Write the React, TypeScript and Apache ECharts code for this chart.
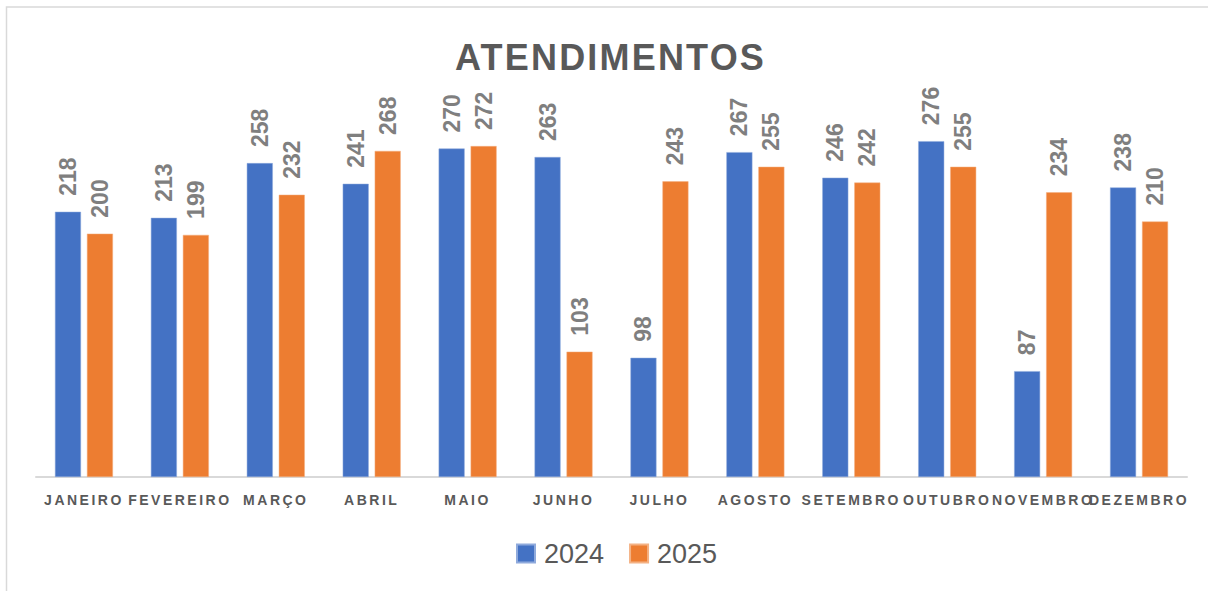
import React, { useEffect, useRef } from "react";
import * as echarts from "echarts";

const categories = [
  "JANEIRO", "FEVEREIRO", "MARÇO", "ABRIL", "MAIO", "JUNHO",
  "JULHO", "AGOSTO", "SETEMBRO", "OUTUBRO", "NOVEMBRO", "DEZEMBRO",
];
const values2024 = [218, 213, 258, 241, 270, 263, 98, 267, 246, 276, 87, 238];
const values2025 = [200, 199, 232, 268, 272, 103, 243, 255, 242, 255, 234, 210];
const seriesNames = ["2024", "2025"];
const titleText = "ATENDIMENTOS";

const FONT = "'Liberation Sans', Arial, sans-serif";

const css = `
#chartbox text[style*="14px"] { letter-spacing: 2.5px; }
#chartbox text[style*="36px"] { letter-spacing: 2.2px; }
`;

export default function App() {
  const ref = useRef<HTMLDivElement>(null);

  useEffect(() => {
    document.body.style.margin = "0";
    const el = ref.current!;
    const chart = echarts.init(el, null, { renderer: "svg" });
    const labelStyle = {
      show: true,
      position: "top" as const,
      rotate: 90,
      align: "left" as const,
      verticalAlign: "middle" as const,
      distance: 16,
      color: "#7f7f7f",
      fontSize: 23,
      fontWeight: "bold" as const,
      fontFamily: FONT,
    };
    chart.setOption({
      animation: false,
      backgroundColor: "#ffffff",
      title: {
        text: titleText,
        left: 450,
        top: 34,
        textStyle: {
          color: "#595959",
          fontSize: 36,
          fontWeight: "bold",
          fontFamily: FONT,
        },
      },
      graphic: [
        {
          type: "rect",
          shape: { x: 6.5, y: 7, width: 1400, height: 800 },
          style: { fill: "none", stroke: "#d9d9d9", lineWidth: 1.5 },
          silent: true,
        },
      ],
      legend: {
        data: seriesNames,
        left: 516,
        top: 540,
        padding: 0,
        itemWidth: 18,
        itemHeight: 18,
        itemGap: 25,
        icon: "rect",
        textStyle: {
          color: "#595959",
          fontSize: 27,
          fontFamily: FONT,
          padding: [0, 0, 0, 4],
        },
      },
      grid: { left: 36, right: 21, top: 112, bottom: 114, containLabel: false },
      xAxis: {
        type: "category",
        data: categories,
        axisLine: { show: true, lineStyle: { color: "#d9d9d9", width: 2 } },
        axisTick: { show: false },
        axisLabel: {
          interval: 0,
          margin: 16,
          color: "#595959",
          fontSize: 14,
          fontWeight: "bold",
          fontFamily: FONT,
        },
      },
      yAxis: {
        type: "value",
        min: 0,
        max: 300,
        show: false,
        splitLine: { show: false },
      },
      series: [
        {
          name: seriesNames[0],
          type: "bar",
          data: values2024,
          barWidth: 26,
          barGap: "23%",
          itemStyle: { color: "#4472C4", borderColor: "#8faadc", borderWidth: 0.5 },
          label: labelStyle,
        },
        {
          name: seriesNames[1],
          type: "bar",
          data: values2025,
          barWidth: 26,
          barGap: "23%",
          itemStyle: { color: "#ED7D31", borderColor: "#f4b183", borderWidth: 0.5 },
          label: labelStyle,
        },
      ],
    });

    return () => {
      chart.dispose();
    };
  }, []);

  return (
    <>
      <style>{css}</style>
      <div
        id="chartbox"
        ref={ref}
        style={{ position: "absolute", left: 0, top: 0, width: 1208, height: 591 }}
      />
    </>
  );
}
